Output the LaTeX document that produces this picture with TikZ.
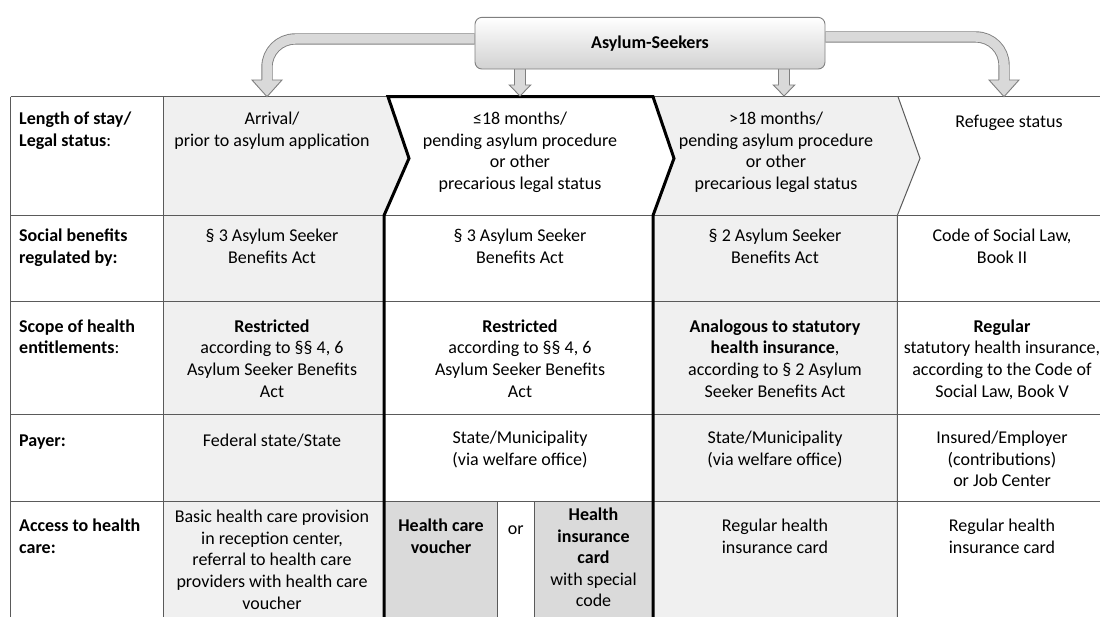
\documentclass[tikz,border=0pt]{standalone}
\usepackage{fontspec}
\setmainfont{Carlito}
\usetikzlibrary{backgrounds}
\definecolor{lineg}{HTML}{5A5A5A}
\definecolor{shadeA}{HTML}{F0F0F0}
\definecolor{shadeB}{HTML}{DADADA}
\definecolor{arrowfill}{HTML}{D9D9D9}
\definecolor{arrowline}{HTML}{7F7F7F}
\newcommand{\blockhead}[4]{%
  \fill[arrowfill] (#1-#3,#2) -- (#1+#3,#2) -- (#1,#4) -- cycle;
  \draw[arrowline, line width=0.9pt, line join=miter] (#1-5.2,#2) -- (#1-#3,#2) -- (#1,#4) -- (#1+#3,#2) -- (#1+5.2,#2);
}
\begin{document}
\begin{tikzpicture}[x=1pt,y=-1pt,
  cellfont/.style={font=\fontsize{18}{21.6}\selectfont},
  cell/.style={cellfont, align=center, anchor=north, inner sep=0pt, execute at begin node={\strut}},
  lab/.style={cellfont, align=left, anchor=north west, inner sep=0pt, execute at begin node={\strut}},
  thinln/.style={draw=lineg, line width=1pt},
  thickln/.style={draw=black, line width=3pt, line join=miter},
  tube/.style={draw=arrowline, line width=0.9pt, double=arrowfill, double distance=9.5pt, rounded corners=28pt},
]
\useasboundingbox (0,0) rectangle (1100,617);

% ---------- table fills ----------
\fill[shadeA] (163.3,96.7) -- (388,96.7) -- (409,158.3) -- (384,215.5) -- (384,620) -- (163.3,620) -- cycle;
\fill[shadeA] (653,96.7) -- (898,96.7) -- (920,158.3) -- (897.3,215.5) -- (897.3,620) -- (653,620) -- (653,215.5) -- (674,158.3) -- cycle;
\fill[shadeB] (384,501.5) rectangle (497,620);
\fill[shadeB] (534.3,501.5) rectangle (653,620);

% ---------- thin lines ----------
\foreach \yy in {96.7,215.5,301.7,414.3,501.5}
  \draw[thinln] (10.7,\yy) -- (1105,\yy);
\draw[thinln] (10.7,96.7) -- (10.7,620);
\draw[thinln] (163.3,96.7) -- (163.3,620);
\draw[thinln] (898,96.7) -- (920,158.3) -- (897.3,215.5) -- (897.3,620);
\draw[thinln] (497,501.5) -- (497,620);
\draw[thinln] (534.3,501.5) -- (534.3,620);

% ---------- thick outline of the highlighted column ----------
\draw[thickln] (384,620) -- (384,215.5) -- (409,158.3) -- (388,96.7) -- (653,96.7) -- (674,158.3) -- (653,215.5) -- (653,620);

% ---------- top box and arrows ----------
\node[draw=arrowline, line width=0.9pt, rounded corners=7pt, top color=white, bottom color=black!18,
      minimum width=350pt, minimum height=51.7pt, inner sep=0pt,
      font=\bfseries\fontsize{18}{21.6}\selectfont] (seekers) at (650,43.2) {Asylum-Seekers};

\coordinate (yL) at (0,39);
\coordinate (yR) at (0,37);
\coordinate (endL) at (267,80);
\coordinate (endR) at (1004,80);
\coordinate (endM1) at (520,85);
\coordinate (endM2) at (784,85);
\begin{scope}[on background layer]
  \draw[tube] (seekers.west |- yL) -- (267,39) -- (endL);
  \draw[tube] (seekers.east |- yR) -- (1004,37) -- (endR);
  \draw[tube] (seekers.south -| endM1) -- (endM1);
  \draw[tube] (seekers.south -| endM2) -- (endM2);
\end{scope}
\blockhead{267}{80}{15}{96.7}
\blockhead{1004}{80}{15}{96.7}
\blockhead{520}{85}{10.7}{96}
\blockhead{784}{85}{10.7}{96}

% ---------- row 1 ----------
\node[lab] (l1) at (19,111.9) {\textbf{Length of stay/}\\\textbf{Legal status}:};
\node[cell] (a1) at (272,111.9) {Arrival/\\prior to asylum application};
\node[cell] (b1) at (520,111.9) {≤18 months/\\pending asylum procedure\\or other\\precarious legal status};
\node[cell] (c1) at (776,111.9) {>18 months/\\pending asylum procedure\\or other\\precarious legal status};
\node[cell] (d1) at (1009,111.9) {Refugee status};

% ---------- row 2 ----------
\node[lab] (l2) at (19,228.9) {\textbf{Social benefits}\\\textbf{regulated by:}};
\node[cell] (a2) at (272,228.9) {§ 3 Asylum Seeker\\Benefits Act};
\node[cell] (b2) at (520,228.9) {§ 3 Asylum Seeker\\Benefits Act};
\node[cell] (c2) at (775,228.9) {§ 2 Asylum Seeker\\Benefits Act};
\node[cell] (d2) at (1002,228.9) {Code of Social Law,\\Book II};

% ---------- row 3 ----------
\node[lab] (l3) at (19,319.4) {\textbf{Scope of health}\\\textbf{entitlements}:};
\node[cell] (a3) at (272,319.4) {\textbf{Restricted}\\according to §§ 4, 6\\Asylum Seeker Benefits\\Act};
\node[cell] (b3) at (520,319.4) {\textbf{Restricted}\\according to §§ 4, 6\\Asylum Seeker Benefits\\Act};
\node[cell] (c3) at (775,319.4) {\textbf{Analogous to statutory}\\\textbf{health insurance},\\according to § 2 Asylum\\Seeker Benefits Act};
\node[cell] (d3) at (1002,319.4) {\textbf{Regular}\\statutory health insurance,\\according to the Code of\\Social Law, Book V};

% ---------- row 4 ----------
\node[lab] (l4) at (19,430.9) {\textbf{Payer:}};
\node[cell] (a4) at (272,430.9) {Federal state/State};
\node[cell] (b4) at (520,430.9) {State/Municipality\\(via welfare office)};
\node[cell] (c4) at (775,430.9) {State/Municipality\\(via welfare office)};
\node[cell] (d4) at (1002,430.9) {Insured/Employer\\(contributions)\\or Job Center};

% ---------- row 5 ----------
\node[lab] (l5) at (19,518.9) {\textbf{Access to health}\\\textbf{care:}};
\node[cell] (a5) at (272,509.9) {Basic health care provision\\in reception center,\\referral to health care\\providers with health care\\voucher};
\node[cell] (b5v) at (441,518.9) {\textbf{Health care}\\\textbf{voucher}};
\node[cell] (b5o) at (515.7,518.9) {or};
\node[cell] (b5c) at (593.5,507.6) {\textbf{Health}\\\textbf{insurance}\\\textbf{card}\\with special\\code};
\node[cell] (c5) at (775,518.9) {Regular health\\insurance card};
\node[cell] (d5) at (1002,518.9) {Regular health\\insurance card};
\end{tikzpicture}
\end{document}
